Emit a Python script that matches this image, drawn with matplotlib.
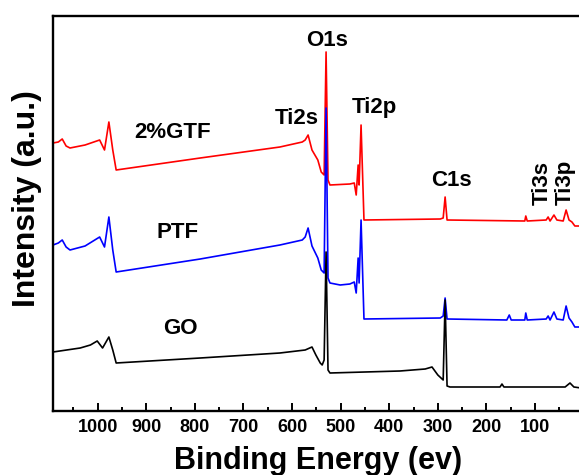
import matplotlib
matplotlib.use("Agg")
import matplotlib.pyplot as plt
from matplotlib.ticker import MultipleLocator

plt.rcParams['font.family'] = ['Liberation Sans', 'DejaVu Sans']
plt.rcParams['font.weight'] = 'bold'

# ---- data (binding energy in eV, intensity in arbitrary units) ----
gtf_energy = [1092, 1081, 1073, 1065, 1057, 1026, 996, 986, 977, 969, 962, 789, 625, 579, 573,
              567, 559, 547, 540, 534, 530, 526, 522, 481, 472, 468, 464, 462, 458, 452,
              295, 289, 285, 281, 121, 119, 116, 77, 73, 69, 61, 55, 42, 36, 30, 24, 18, 5]
gtf_intensity = [268, 269, 272, 265, 263, 266, 271, 261, 289, 261, 241, 253, 264, 269, 271,
                 276, 261, 251, 239, 236, 359, 231, 226, 227, 228, 216, 246, 226, 286, 191,
                 192, 193, 214, 191, 190, 195, 190, 191, 194, 190, 196, 191, 190, 201, 191, 189, 185, 185]

ptf_energy = [1092, 1081, 1073, 1065, 1057, 1026, 996, 986, 977, 969, 962, 789, 625, 579, 573,
              567, 559, 547, 540, 534, 530, 526, 522, 501, 481, 472, 468, 464, 462, 458,
              452, 295, 289, 285, 281, 158, 153, 149, 121, 119, 116, 77, 73, 69, 61,
              55, 42, 36, 30, 24, 18, 5]
ptf_intensity = [166, 168, 171, 164, 161, 165, 174, 164, 194, 161, 139, 152, 166, 171, 174,
                 183, 165, 153, 141, 138, 303, 133, 128, 126, 127, 129, 118, 153, 128, 191,
                 92, 93, 95, 113, 92, 91, 96, 91, 91, 98, 91, 92, 95, 91, 99,
                 92, 91, 105, 93, 89, 84, 84]

go_energy = [1092, 1036, 1015, 1001, 990, 977, 969, 962, 789, 625, 573, 559, 551, 542, 538,
             534, 530, 526, 522, 378, 326, 312, 300, 289, 285, 281, 275, 172, 168, 164,
             38, 28, 20, 5]
go_intensity = [59, 63, 66, 70, 63, 74, 61, 48, 53, 58, 61, 64, 56, 48, 46,
                51, 159, 41, 38, 40, 42, 44, 36, 31, 111, 25, 24, 24, 27, 24,
                24, 28, 24, 23]

sample_labels = ["2%GTF", "PTF", "GO"]
peak_labels = ["O1s", "Ti2s", "Ti2p", "C1s"]
rot_labels = ["Ti3s", "Ti3p"]
tick_values = [1000, 900, 800, 700, 600, 500, 400, 300, 200, 100]

W, H = 579, 475
fig = plt.figure(figsize=(W / 100, H / 100), dpi=100)
ax = fig.add_axes([53 / W, (H - 411) / H, (583.6 - 53) / W, (411 - 16) / H])

ax.plot(gtf_energy, gtf_intensity, color='#ff0000', lw=1.2)
ax.plot(ptf_energy, ptf_intensity, color='#0000ff', lw=1.2)
ax.plot(go_energy, go_intensity, color='black', lw=1.2)

ax.set_xlim(1092, 0)
ax.set_ylim(0, 395)
ax.set_xticks(tick_values)
ax.set_xticklabels([str(v) for v in tick_values])
ax.xaxis.set_minor_locator(MultipleLocator(50))
ax.set_yticks([])
ax.tick_params(axis='x', which='major', direction='in', length=6, width=1.4, pad=6,
               labelsize=13)
ax.tick_params(axis='x', which='minor', direction='in', length=3, width=1.4)
for sp in ax.spines.values():
    sp.set_linewidth(1.7)

ax.set_xlabel("Binding Energy (ev)", fontsize=22, fontweight='bold', labelpad=7)
ax.set_ylabel("Intensity (a.u.)", fontsize=23, fontweight='bold')
ax.yaxis.set_label_coords(-0.021, 0.539)

fs = 16
sample_pos = [(845, 278), (835, 178), (830, 83)]
for lab, (x, y) in zip(sample_labels, sample_pos):
    ax.text(x, y, lab, ha='center', va='center', fontsize=fs, fontweight='bold')
peak_pos = [(528, 371), (590, 293), (431, 303), (271, 231)]
for lab, (x, y) in zip(peak_labels, peak_pos):
    ax.text(x, y, lab, ha='center', va='center', fontsize=fs, fontweight='bold')
rot_pos = [(86, 206), (38, 206)]
for lab, (x, y) in zip(rot_labels, rot_pos):
    ax.text(x, y, lab, ha='center', va='bottom', rotation=90, fontsize=fs, fontweight='bold')

fig.savefig("out.png", dpi=100)
